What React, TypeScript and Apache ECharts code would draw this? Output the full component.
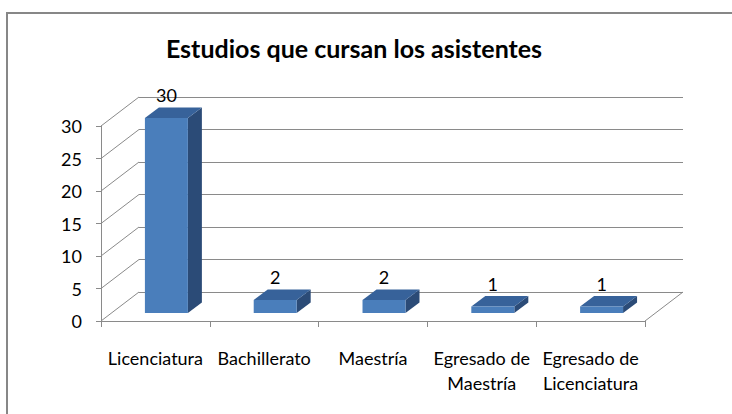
import React, { useEffect, useRef } from "react";
import * as echarts from "echarts";

const titleText = "Estudios que cursan los asistentes";
const categories = [
  "Licenciatura",
  "Bachillerato",
  "Maestría",
  "Egresado de\nMaestría",
  "Egresado de\nLicenciatura",
];
const values = [30, 2, 2, 1, 1];
const yTicks = [0, 5, 10, 15, 20, 25, 30];

const FONT = "Lato, 'Open Sans', sans-serif";
const LINE = "#8a8a8a";
const DX = 38;
const DY = -29;
const BAR_SX = 11;
const BAR_SY = -8;
const BAR_DX = 14;
const BAR_DY = -10.5;
const BAR_W = 0.395;

const G = { left: 101, right: 87, top: 126, bottom: 93 };

export default function App() {
  const ref = useRef<HTMLDivElement>(null);
  useEffect(() => {
    if (!ref.current) return;
    const chart = echarts.init(ref.current, undefined, { renderer: "svg" });
    const option: any = {
      animation: false,
      backgroundColor: "#ffffff",
      graphic: [
        {
          type: "polyline",
          z: 0,
          silent: true,
          shape: { points: [[7, 420], [7, 13], [740, 13]] },
          style: { fill: "none", stroke: "#878787", lineWidth: 2 },
        },
        {
          type: "text",
          x: 354,
          y: 48,
          style: {
            text: titleText,
            font: `bold 25px ${FONT}`,
            fill: "#000000",
            textAlign: "center",
            textVerticalAlign: "middle",
          },
        },
      ],
      grid: [
        { ...G },
        {
          left: G.left + DX,
          right: G.right - DX,
          top: G.top + DY,
          bottom: G.bottom - DY,
        },
      ],
      xAxis: [
        {
          type: "category",
          gridIndex: 0,
          data: categories,
          axisLine: { show: true, lineStyle: { color: LINE, width: 1 } },
          axisTick: { show: true, length: 6, lineStyle: { color: LINE } },
          axisLabel: {
            margin: 24,
            fontFamily: FONT,
            fontSize: 18,
            lineHeight: 25,
            color: "#000000",
            interval: 0,
            align: "center",
          },
          splitLine: { show: false },
        },
        {
          type: "category",
          gridIndex: 1,
          data: categories,
          show: false,
        },
      ],
      yAxis: [
        {
          type: "value",
          gridIndex: 0,
          min: 0,
          max: 30,
          interval: 5,
          axisLine: { show: true, lineStyle: { color: LINE, width: 1 } },
          axisTick: { show: true, length: 5, lineStyle: { color: LINE } },
          axisLabel: {
            margin: 19,
            fontFamily: FONT,
            fontSize: 18,
            color: "#000000",
          },
          splitLine: { show: false },
        },
        {
          type: "value",
          gridIndex: 1,
          min: 0,
          max: 30,
          interval: 5,
          axisLine: { show: false },
          axisTick: { show: false },
          axisLabel: { show: false },
          splitLine: { show: true, lineStyle: { color: LINE, width: 1 } },
        },
      ],
      series: [
        {
          type: "custom",
          xAxisIndex: 0,
          yAxisIndex: 0,
          z: 1,
          silent: true,
          data: yTicks.map((v) => [0, v]),
          renderItem: (params: any, api: any) => {
            const v = api.value(1);
            const p = api.coord([0, v]);
            const band = api.size([1, 0])[0];
            const xL = p[0] - band / 2;
            const children: any[] = [
              {
                type: "line",
                shape: { x1: xL, y1: p[1], x2: xL + DX, y2: p[1] + DY },
                style: { stroke: LINE, lineWidth: 1 },
              },
            ];
            if (v === 0) {
              const xR = xL + band * categories.length;
              children.push({
                type: "line",
                shape: { x1: xR, y1: p[1], x2: xR + DX, y2: p[1] + DY },
                style: { stroke: LINE, lineWidth: 1 },
              });
            }
            return { type: "group", children };
          },
        },
        {
          type: "custom",
          xAxisIndex: 0,
          yAxisIndex: 0,
          z: 5,
          silent: true,
          data: values.map((v, i) => [i, v]),
          renderItem: (params: any, api: any) => {
            const i = api.value(0);
            const v = api.value(1);
            const top = api.coord([i, v]);
            const base = api.coord([i, 0]);
            const band = api.size([1, 0])[0];
            const w = band * BAR_W;
            const cx = top[0] + BAR_SX;
            const x0 = cx - w / 2;
            const x1 = cx + w / 2;
            const yT = top[1] + BAR_SY;
            const yB = base[1] + BAR_SY;
            return {
              type: "group",
              children: [
                {
                  type: "polygon",
                  shape: {
                    points: [
                      [x1, yT],
                      [x1 + BAR_DX, yT + BAR_DY],
                      [x1 + BAR_DX, yB + BAR_DY],
                      [x1, yB],
                    ],
                  },
                  style: { fill: "#2b4b77" },
                },
                {
                  type: "polygon",
                  shape: {
                    points: [
                      [x0, yT],
                      [x1, yT],
                      [x1 + BAR_DX, yT + BAR_DY],
                      [x0 + BAR_DX, yT + BAR_DY],
                    ],
                  },
                  style: { fill: "#37629a" },
                },
                {
                  type: "rect",
                  shape: { x: x0, y: yT, width: w, height: yB - yT },
                  style: { fill: "#4a7ebb" },
                },
                {
                  type: "text",
                  x: cx,
                  y: yT - 23,
                  style: {
                    text: String(v),
                    font: `18px ${FONT}`,
                    fill: "#000000",
                    textAlign: "center",
                    textVerticalAlign: "middle",
                  },
                },
              ],
            };
          },
        },
      ],
    };
    chart.setOption(option);
    return () => chart.dispose();
  }, []);
  return (
    <div
      ref={ref}
      style={{ position: "absolute", left: 0, top: 0, width: 732, height: 414 }}
    />
  );
}
